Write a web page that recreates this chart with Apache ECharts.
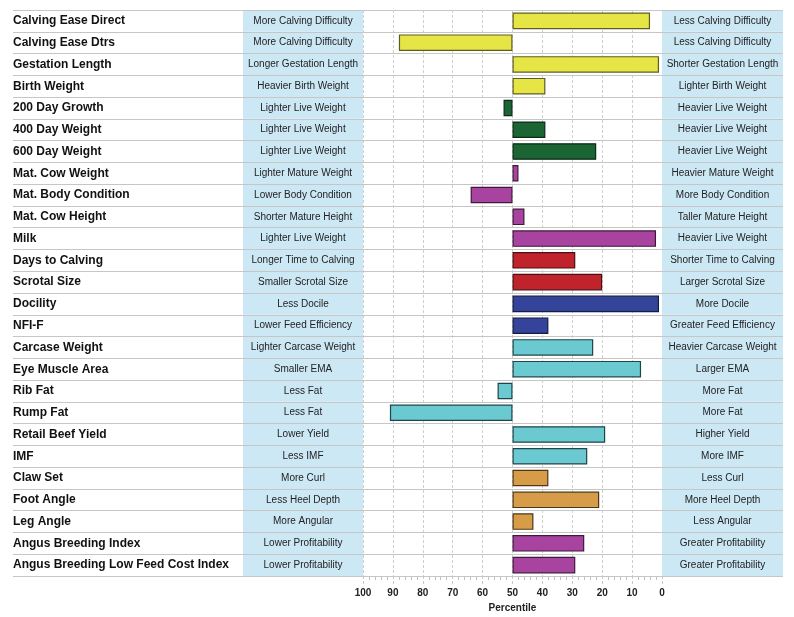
<!DOCTYPE html>
<html>
<head>
<meta charset="utf-8">
<script src="https://cdn.jsdelivr.net/npm/echarts@6/dist/echarts.min.js"></script>
<style>
html,body{margin:0;padding:0;background:#fff;}
#chart{width:794px;height:617px;}
</style>
</head>
<body>
<div id="chart"></div>
<script>
// ---- data ----
const traits = ['Calving Ease Direct','Calving Ease Dtrs','Gestation Length','Birth Weight','200 Day Growth','400 Day Weight','600 Day Weight','Mat. Cow Weight','Mat. Body Condition','Mat. Cow Height','Milk','Days to Calving','Scrotal Size','Docility','NFI-F','Carcase Weight','Eye Muscle Area','Rib Fat','Rump Fat','Retail Beef Yield','IMF','Claw Set','Foot Angle','Leg Angle','Angus Breeding Index','Angus Breeding Low Feed Cost Index'];
const leftDesc = ['More Calving Difficulty','More Calving Difficulty','Longer Gestation Length','Heavier Birth Weight','Lighter Live Weight','Lighter Live Weight','Lighter Live Weight','Lighter Mature Weight','Lower Body Condition','Shorter Mature Height','Lighter Live Weight','Longer Time to Calving','Smaller Scrotal Size','Less Docile','Lower Feed Efficiency','Lighter Carcase Weight','Smaller EMA','Less Fat','Less Fat','Lower Yield','Less IMF','More Curl','Less Heel Depth','More Angular','Lower Profitability','Lower Profitability'];
const rightDesc = ['Less Calving Difficulty','Less Calving Difficulty','Shorter Gestation Length','Lighter Birth Weight','Heavier Live Weight','Heavier Live Weight','Heavier Live Weight','Heavier Mature Weight','More Body Condition','Taller Mature Height','Heavier Live Weight','Shorter Time to Calving','Larger Scrotal Size','More Docile','Greater Feed Efficiency','Heavier Carcase Weight','Larger EMA','More Fat','More Fat','Higher Yield','More IMF','Less Curl','More Heel Depth','Less Angular','Greater Profitability','Greater Profitability'];
const percentiles = [4,88,1,39,53,39,22,48,64,46,2,29,20,1,38,23,7,55,91,19,25,38,21,43,26,29];
const groups = ['calving','calving','calving','calving','growth','growth','growth','maternal','maternal','maternal','maternal','fertility','fertility','temperament','feed','carcase','carcase','carcase','carcase','carcase','carcase','structure','structure','structure','index','index'];
const xTicks = [0,10,20,30,40,50,60,70,80,90,100];
const midPoint = 50;

// ---- styles ----
const groupColors = {calving:'#e5e545',growth:'#1b6535',maternal:'#a8449f',fertility:'#c0232b',temperament:'#35449b',feed:'#35449b',carcase:'#6bc9d1',structure:'#d69c48',index:'#a8449f'};
const groupBorders = {calving:'#5e5e22',growth:'#0d2a16',maternal:'#3e1a3a',fertility:'#4a1012',temperament:'#151c40',feed:'#151c40',carcase:'#1f4548',structure:'#4e3818',index:'#3e1a3a'};
const FONT = 'Liberation Sans, Arial, sans-serif';
const descBg = '#cde8f5';

const baseVals = percentiles.map(v => Math.min(v, midPoint));
const spanVals = percentiles.map(v => Math.abs(v - midPoint));
const ones = traits.map(() => 1);

const chart = echarts.init(document.getElementById('chart'), null, {renderer:'canvas'});
const gTop = 10, gBottom = 41;
const gridCommon = {top:gTop, bottom:gBottom, containLabel:false, outerBoundsMode:'none'};
chart.setOption({
  animation:false,
  grid:[
    Object.assign({left:363, right:132}, gridCommon),
    Object.assign({left:243, width:120}, gridCommon),
    Object.assign({left:662, width:121}, gridCommon),
    Object.assign({left:13, right:11}, gridCommon)
  ],
  xAxis:[
    {gridIndex:0, type:'value', inverse:true, min:0, max:100, interval:10,
     axisLine:{show:false},
     axisTick:{show:true, length:8, lineStyle:{color:'#c8c8c8', type:[3,2]}},
     minorTick:{show:true, splitNumber:5, length:4, lineStyle:{color:'#c0c0c0'}},
     splitLine:{show:true, lineStyle:{color:'#cfcfcf', type:[3,2]}},
     axisLabel:{fontFamily:FONT, fontSize:10, fontWeight:'bold', color:'#222', margin:12,
       formatter:v => xTicks.indexOf(v) >= 0 ? String(v) : ''},
     name:'Percentile', nameLocation:'middle', nameGap:27,
     nameTextStyle:{fontFamily:FONT, fontSize:10, fontWeight:'bold', color:'#222'}},
    {gridIndex:1, type:'value', min:0, max:1, show:false},
    {gridIndex:2, type:'value', min:0, max:1, show:false},
    {gridIndex:3, type:'value', min:0, max:1, show:false}
  ],
  yAxis:[
    {gridIndex:0, type:'category', data:traits, inverse:true,
     axisLine:{show:false}, axisTick:{show:false}, splitLine:{show:false},
     axisLabel:{align:'left', verticalAlign:'middle', margin:350, fontFamily:FONT, fontSize:12, fontWeight:'bold', color:'#111'}},
    {gridIndex:1, type:'category', data:traits, inverse:true, show:false},
    {gridIndex:2, type:'category', data:traits, inverse:true, show:false},
    {gridIndex:3, type:'category', data:traits, inverse:true, z:5,
     axisLine:{show:false}, axisTick:{show:false}, axisLabel:{show:false},
     splitLine:{show:true, lineStyle:{color:'#c6c6c6', width:1.2}}}
  ],
  series:[
    {type:'bar', xAxisIndex:0, yAxisIndex:0, stack:'p', data:baseVals, barCategoryGap:'24%',
     itemStyle:{color:'transparent'}, silent:true},
    {type:'bar', xAxisIndex:0, yAxisIndex:0, stack:'p', barCategoryGap:'24%',
     data:spanVals.map((s,i) => ({value:s, itemStyle:{color:groupColors[groups[i]], borderColor:groupBorders[groups[i]], borderWidth:1.2}}))},
    {type:'bar', xAxisIndex:1, yAxisIndex:1, data:ones, barCategoryGap:'0%', barWidth:'100%',
     itemStyle:{color:descBg},
     label:{show:true, position:'inside', formatter:p => leftDesc[p.dataIndex], fontFamily:FONT, fontSize:10, color:'#222'}},
    {type:'bar', xAxisIndex:2, yAxisIndex:2, data:ones, barCategoryGap:'0%', barWidth:'100%',
     itemStyle:{color:descBg},
     label:{show:true, position:'inside', formatter:p => rightDesc[p.dataIndex], fontFamily:FONT, fontSize:10, color:'#222'}}
  ]
});
</script>
</body>
</html>
